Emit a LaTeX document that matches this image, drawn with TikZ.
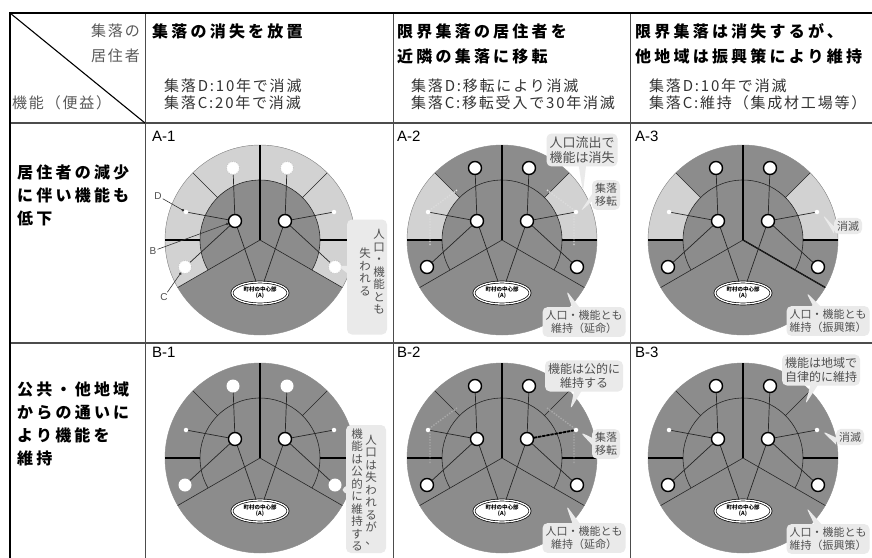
\documentclass[tikz,border=0pt]{standalone}
\usepackage{fontspec}
\newfontfamily\jp{Noto Sans CJK JP}
\newfontfamily\jpls{Noto Sans CJK JP}[LetterSpace=12]
\newfontfamily\jphd{Noto Sans CJK JP}[LetterSpace=20]
\newfontfamily\lab{Liberation Sans}
\usetikzlibrary{shapes.geometric,shapes.callouts,arrows.meta}
\definecolor{dk}{RGB}{140,140,140}
\definecolor{lt}{RGB}{210,210,210}
\definecolor{co}{RGB}{234,234,234}
\definecolor{tx}{RGB}{80,80,80}
\tikzset{
 thn/.style={black!85, line width=0.6},
 thk/.style={black, line width=1.3},
 ol/.style={black!45, line width=0.4},
 cn/.style={black!85, line width=0.7},
 vil/.style={circle, fill=white, draw=black, line width=1.4, minimum size=13, inner sep=0},
 ghost/.style={circle, fill=white, draw=gray!45, dash pattern=on 1pt off 1pt, line width=0.8, minimum size=13, inner sep=0},
 wv/.style={circle, fill=white, minimum size=13, inner sep=0},
 dotv/.style={circle, fill=white, minimum size=4.5, inner sep=0},
 cen/.style={ellipse, fill=white, draw=black, line width=0.7, double=white, double distance=1.3, minimum width=56, minimum height=22, inner sep=0, align=center, font=\jp\fontsize{5.5}{6}\selectfont\bfseries},
 cob/.style={rectangle callout, fill=co, rounded corners=5pt, inner sep=3pt, align=center, text=tx, font=\jp\fontsize{11}{13.5}\selectfont},
 vt/.style={align=center, inner sep=0, text=tx, font=\jp\fontsize{11.5}{12.5}\selectfont},
 hd/.style={anchor=west, inner sep=0, font=\jphd\fontsize{16}{23}\selectfont\bfseries},
 sb/.style={anchor=west, inner sep=0, text=black!80, font=\jpls\fontsize{15}{18}\selectfont},
 ch/.style={inner sep=0, text=black!65, font=\jpls\fontsize{15}{18}\selectfont},
 rh/.style={anchor=north west, align=left, inner sep=0, font=\jphd\fontsize{16}{23}\selectfont\bfseries},
 pl/.style={anchor=west, inner sep=0, font=\lab\fontsize{15}{16}\selectfont},
 lbl/.style={inner sep=1pt, text=black!70, font=\lab\fontsize{10}{11}\selectfont},
 leader/.style={black!80, line width=0.6, -{Circle[length=2.5pt]}},
 reloc/.style={white!72!gray, line width=1.4, dash pattern=on 1.4pt off 1.4pt},
}
\newcommand\wheel[4]{%
\begin{scope}[shift={(#2,#3)},y=1pt]
\fill[dk] (0,0) circle[radius=95];
#4
\draw[ol] (0,0) circle[radius=95];
\draw[thn] (210:60) arc[start angle=210,end angle=-30,radius=60];
\draw[thn] (0,0) -- (210:95) (0,0) -- (330:95);
\draw[thn] (135:60) -- (135:95) (45:60) -- (45:95);
\draw[thk] (180:60) -- (180:95) (0:60) -- (0:95) (0,0) -- (90:95);
\node[cen] (#1-e) at (0,-53) {町村の中心部\\(A)};
\end{scope}}
\newcommand\vills[7]{%
\begin{scope}[shift={(#2,#3)},y=1pt]
\node[#4] (#1-tl) at (-27,72) {};
\node[#4] (#1-tr) at (27,72) {};
\node[#5] (#1-dl) at (-74,28) {};
\node[#5] (#1-dr) at (74,28) {};
\node[#6] (#1-cl) at (-75,-27) {};
\node[#6] (#1-cr) at (75,-27) {};
\node[#7] (#1-bl) at (-25,19) {};
\node[#7] (#1-br) at (25,19) {};
\draw[cn] (#1-bl) -- (#1-tl) (#1-bl) -- (#1-dl) (#1-bl) -- (#1-cl) (#1-bl) -- (#1-e);
\draw[cn] (#1-br) -- (#1-tr) (#1-br) -- (#1-dr) (#1-br) -- (#1-cr) (#1-br) -- (#1-e);
\end{scope}}
\newcommand\ringall{\fill[lt] (210:60) arc[start angle=210,end angle=-30,radius=60] -- (-30:95) arc[start angle=-30,end angle=210,radius=95] -- cycle;}
\newcommand\ringtwo{\fill[lt] (135:60) arc[start angle=135,end angle=180,radius=60] -- (180:95) arc[start angle=180,end angle=135,radius=95] -- cycle;
\fill[lt] (0:60) arc[start angle=0,end angle=45,radius=60] -- (45:95) arc[start angle=45,end angle=0,radius=95] -- cycle;}
\begin{document}
\begin{tikzpicture}[x=1pt,y=-1pt]
\useasboundingbox (0,0) rectangle (872,557);
\fill[white] (0,0) rectangle (872,557);
% table
\draw[gray!60!black, line width=1.2] (10,123) -- (875,123) (10,343) -- (875,343);
\draw[gray!60!black, line width=1] (145,13) -- (145,560) (393,13) -- (393,560) (630,13) -- (630,560);
\draw[black, line width=1.1] (10,13) -- (145,123);
\draw[black, line width=2.2] (10,560) -- (10,13) -- (875,13);
% header
\node[ch, anchor=east] (h0a) at (140,31) {集落の};
\node[ch, anchor=east] (h0b) at (140,56) {居住者};
\node[ch, anchor=west] (h0c) at (12,103) {機能（便益）};
\node[hd] (h1a) at (152,31) {集落の消失を放置};
\node[sb] (h1b) at (164,86) {集落D:10年で消滅};
\node[sb] (h1c) at (164,103) {集落C:20年で消滅};
\node[hd] (h2a) at (397,31) {限界集落の居住者を};
\node[hd] (h2b) at (397,56) {近隣の集落に移転};
\node[sb] (h2c) at (411,86) {集落D:移転により消滅};
\node[sb] (h2d) at (411,103) {集落C:移転受入で30年消滅};
\node[hd] (h3a) at (635,31) {限界集落は消失するが、};
\node[hd] (h3b) at (635,56) {他地域は振興策により維持};
\node[sb] (h3c) at (649,86) {集落D:10年で消滅};
\node[sb] (h3d) at (649,103) {集落C:維持（集成材工場等）};
\node[rh] (r1) at (17,165) {居住者の減少\\に伴い機能も\\低下};
\node[rh] (r2) at (17,382) {公共・他地域\\からの通いに\\より機能を\\維持};
% panel labels
\node[pl] (pa1) at (152,136) {A-1};
\node[pl] (pa2) at (397,136) {A-2};
\node[pl] (pa3) at (635,136) {A-3};
\node[pl] (pb1) at (152,352) {B-1};
\node[pl] (pb2) at (397,352) {B-2};
\node[pl] (pb3) at (635,352) {B-3};
% A-1
\wheel{a1}{260}{240}{\ringall}
\vills{a1}{260}{240}{ghost}{dotv}{ghost}{vil}
% A-2
\wheel{a2}{502}{240}{\ringtwo}
\begin{scope}[shift={(502,240)},y=1pt]
\draw[reloc] (-45,50) -- (-72,30) -- (-72,-5);
\draw[reloc] (45,50) -- (72,30) -- (72,-5);
\end{scope}
\vills{a2}{502}{240}{vil}{dotv}{vil}{vil}
% A-3
\wheel{a3}{743}{240}{\ringtwo\draw[thk] (0,0) -- (330:95);}
\vills{a3}{743}{240}{vil}{dotv}{vil}{vil}
% B-1
\wheel{b1}{260}{458}{}
\vills{b1}{260}{458}{wv}{dotv}{wv}{vil}
% B-2
\wheel{b2}{502}{458}{}
\begin{scope}[shift={(502,458)},y=1pt]
\draw[reloc, white!25!dk] (-45,50) -- (-72,30) -- (-72,-5);
\draw[reloc, white!25!dk] (45,50) -- (72,30) -- (72,-5);
\end{scope}
\vills{b2}{502}{458}{vil}{dotv}{vil}{vil}
\draw[black, line width=1.8, dash pattern=on 3pt off 1.2pt] (b2-br) -- (b2-dr);
% B-3
\wheel{b3}{743}{458}{}
\vills{b3}{743}{458}{vil}{dotv}{vil}{vil}
% A-1 labels
\node[lbl] (a1-lD) at (158,196) {D};
\node[lbl] (a1-lB) at (153,251) {B};
\node[lbl] (a1-lC) at (164,297) {C};
\draw[leader] (a1-lD) -- (a1-dl);
\draw[leader] (a1-lB) -- (a1-bl);
\draw[leader] (a1-lC) -- (a1-cl);
% callouts A-1
\node[cob, minimum width=40, minimum height=115, callout absolute pointer={(338,266)}] (a1-co) at (367,277) {};
\node[vt] (a1-v1) at (379,272) {人\\口\\・\\機\\能\\と\\も};
\node[vt] (a1-v2) at (365,272) {失\\わ\\れ\\る};
% callouts A-2
\node[cob, font=\jp\fontsize{13}{15}\selectfont, callout absolute pointer={(583,192)}] (a2-c1) at (582,150) {人口流出で\\機能は消失};
\node[cob, callout absolute pointer={(580,212)}] (a2-c2) at (606,195) {集落\\移転};
\node[cob, callout absolute pointer={(566,290)}] (a2-c3) at (584,322) {人口・機能とも\\維持（延命）};
% callouts A-3
\node[cob, callout absolute pointer={(822,214)}] (a3-c1) at (848,226) {消滅};
\node[cob, callout absolute pointer={(806,292)}] (a3-c2) at (828,321) {人口・機能とも\\維持（振興策）};
% callouts B-1
\node[cob, minimum width=40, minimum height=128, callout absolute pointer={(340,490)}] (b1-co) at (366,489) {};
\node[vt] (b1-v1) at (371,490) {人\\口\\は\\失\\わ\\れ\\る\\が\\、};
\node[vt] (b1-v2) at (357,490) {機\\能\\は\\公\\的\\に\\維\\持\\す\\る};
% callouts B-2
\node[cob, font=\jp\fontsize{12}{14}\selectfont, callout absolute pointer={(570,410)}] (b2-c1) at (584,376) {機能は公的に\\維持する};
\node[cob, callout absolute pointer={(580,432)}] (b2-c2) at (606,444) {集落\\移転};
\node[cob, callout absolute pointer={(566,505)}] (b2-c3) at (584,538) {人口・機能とも\\維持（延命）};
% callouts B-3
\node[cob, font=\jp\fontsize{12}{14}\selectfont, callout absolute pointer={(805,405)}] (b3-c1) at (821,370) {機能は地域で\\自律的に維持};
\node[cob, callout absolute pointer={(822,431)}] (b3-c2) at (850,437) {消滅};
\node[cob, callout absolute pointer={(806,507)}] (b3-c3) at (828,539) {人口・機能とも\\維持（振興策）};
\end{tikzpicture}
\end{document}
